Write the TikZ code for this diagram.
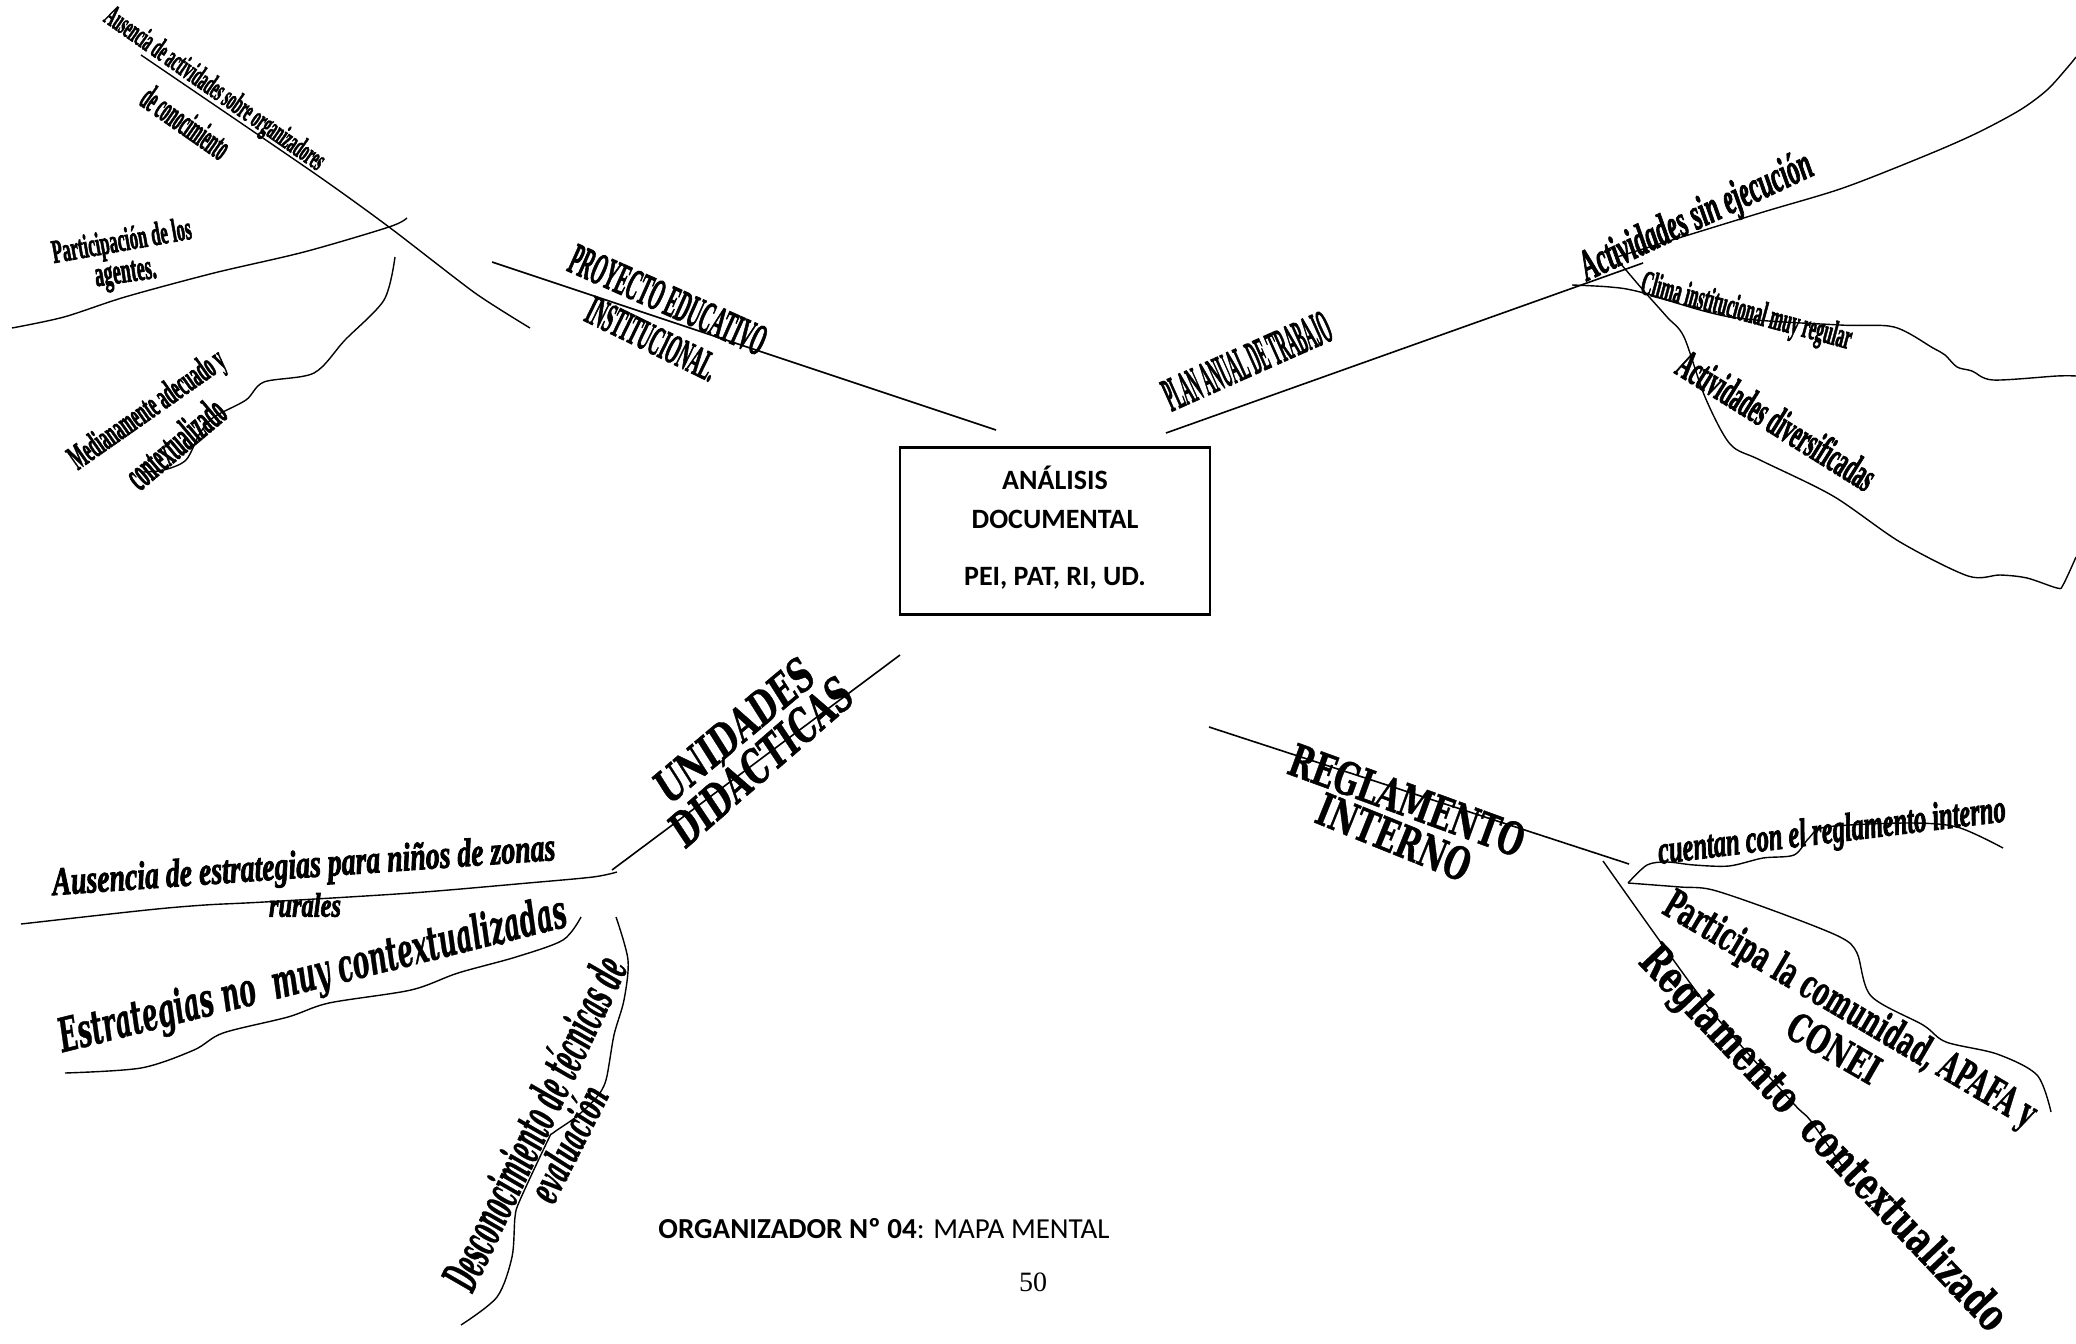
\documentclass[tikz,border=0pt]{standalone}
\usepackage{fontspec}
\usepackage{graphicx}
\usetikzlibrary{positioning}
\setmainfont{Carlito}
\newfontfamily\artfont[BoldFeatures={FakeBold=2.5}, BoldItalicFeatures={FakeBold=2.5}]{Liberation Serif}
\newfontfamily\bookfont[BoldFeatures={FakeBold=1}, BoldItalicFeatures={FakeBold=1}]{DejaVu Serif}
\newcommand{\wart}[3]{\resizebox*{#1pt}{#2pt}{#3}}

\begin{document}
\begin{tikzpicture}[
    x=1pt, y=-1pt,
    branch/.style={line width=1.6pt},
    twig/.style={line width=1.4pt, line join=round},
    art/.style={inner sep=0pt, font=\artfont\bfseries},
    arti/.style={inner sep=0pt, font=\artfont\bfseries\itshape},
    book/.style={inner sep=0pt, font=\bookfont\bfseries},
    booki/.style={inner sep=0pt, font=\bookfont\bfseries\itshape},
]
    \useasboundingbox (0,0) rectangle (2076,1343);

    \node[draw, line width=2.4pt, minimum width=310pt, minimum height=167pt, align=center,
          font=\bfseries\fontsize{28}{39}\selectfont] (doc) at (1055,531)
        {ANÁLISIS\\DOCUMENTAL\\[18pt]PEI, PAT, RI, UD.\\[-29pt]};

    \coordinate (pei-out) at (492,262);
    \coordinate (pei-in) at (996,430);
    \coordinate (pat-in) at (1166,433);
    \coordinate (pat-out) at (1643,263);
    \coordinate (ud-in) at (900,655);
    \coordinate (ud-out) at (612,870);
    \coordinate (ri-in) at (1209,727);
    \coordinate (ri-out) at (1629,864);
    \coordinate (ri-fork) at (1628,883);

    \draw[branch] (pei-in) -- (pei-out);
    \draw[branch] (pat-in) -- (pat-out);
    \draw[branch] (ud-in) -- (ud-out);
    \draw[branch] (ri-in) -- (ri-out);

    \draw[twig] plot[smooth, tension=0.4] coordinates {(141,55) (314,173) (389,227) (475,293) (530,328)};
    \draw[twig] plot[smooth, tension=0.5] coordinates {(12,328) (64,317) (125,297) (214,273) (304,252) (389,227) (407,218)};
    \draw[twig] plot[smooth, tension=0.5] coordinates {(395,257) (384,300) (345,340) (314,373) (264,382) (246,400) (214,417) (200,433) (186,460) (164,470) (143,472)};

    \draw[twig] plot[smooth, tension=0.5] coordinates {(1617,257) (1760,213) (1843,188) (1927,155) (1977,133) (2020,110) (2047,90) (2067,68) (2076,57)};
    \draw[twig] plot[smooth, tension=0.5] coordinates {(1572,285) (1610,287) (1640,292) (1730,317) (1840,325) (1894,327) (1933,348) (1945,355) (1957,367) (1972,371) (1993,380) (2057,376) (2076,376)};
    \draw[twig] plot[smooth, tension=0.5] coordinates {(1620,263) (1643,290) (1667,317) (1684,337) (1705,397) (1730,444) (1760,460) (1833,496) (1900,542) (1968,576) (2000,575) (2027,578) (2057,588) (2063,585) (2076,557)};

    \draw[twig] plot[smooth, tension=0.5] coordinates {(617,872) (593,877) (528,883) (411,893) (264,902) (205,905) (147,910) (21,924)};
    \draw[twig] plot[smooth, tension=0.5] coordinates {(581,917) (563,940) (516,957) (458,973) (411,990) (329,1003) (288,1017) (223,1033) (194,1050) (141,1068) (65,1073)};
    \draw[twig] plot[smooth, tension=0.5] coordinates {(616,917) (628,960) (624,1000) (614,1035) (606,1080) (596,1098) (576,1117) (553,1133) (548,1140) (520,1200) (515,1217) (512,1257) (497,1297) (461,1325)};

    \draw[twig] plot[smooth, tension=0.4] coordinates {(1603,861) (1708,1007) (1793,1103) (1810,1120) (1845,1170)};
    \draw[twig] plot[smooth, tension=0.5] coordinates {(2003,848) (1957,827) (1906,823) (1826,827) (1809,838) (1794,855) (1763,858) (1729,866) (1694,865) (1667,862) (1647,865) (ri-fork)};
    \draw[twig] plot[smooth, tension=0.5] coordinates {(ri-fork) (1680,887) (1713,890) (1780,913) (1840,937) (1857,953) (1871,996) (1923,1025) (1946,1042) (1997,1054) (2037,1075) (2051,1112)};

    \node[art, rotate=-35] (pei-t1) at (214,90) {\wart{262}{28}{Ausencia de actividades sobre organizadores}};
    \node[art, rotate=-35] (pei-t1b) at (186,122) {\wart{100}{26}{de conocimiento}};
    \node[art, rotate=10] (pei-t2) at (122,243) {\wart{141}{30}{Participación de los}};
    \node[art, rotate=8] (pei-t2b) at (126,276) {\wart{62}{28}{agentes.}};
    \node[art, rotate=35] (pei-t3) at (148,411) {\wart{183}{32}{Medianamente adecuado y}};
    \node[art, rotate=40] (pei-t3b) at (175,443) {\wart{117}{30}{contextualizado}};
    \node[art, rotate=-24] (pei) at (668,300) {\wart{211}{30}{PROYECTO EDUCATIVO}};
    \node[art, rotate=-26] (pei-b) at (652,339) {\wart{141}{28}{INSTITUCIONAL.}};

    \node[art, rotate=24] (pat) at (1247,361) {\wart{179}{32}{PLAN ANUAL DE TRABAJO}};
    \node[arti, rotate=25] (pat-t1) at (1697,218) {\wart{252}{40}{Actividades sin ejecución}};
    \node[art, rotate=-15] (pat-t2) at (1746,313) {\wart{217}{32}{Clima institucional muy regular}};
    \node[art, rotate=-32] (pat-t3) at (1777,420) {\wart{226}{30}{Actividades diversificadas}};

    \node[booki, rotate=40] (ud) at (734,730) {\wart{194}{34}{UNIDADES}};
    \node[booki, rotate=41] (ud-b) at (758,758) {\wart{227}{44}{DIDÁCTICAS}};
    \node[arti, rotate=4] (ud-t1) at (304,868) {\wart{504}{36}{Ausencia de estrategias para niños de zonas}};
    \node[arti] (ud-t1b) at (305,905) {\wart{72}{24}{rurales}};
    \node[booki, rotate=14] (ud-t2) at (313,977) {\wart{522}{46}{Estrategias no\ \ muy contextualizadas}};
    \node[booki, rotate=64.5] (ud-t3) at (533,1122) {\wart{362}{40}{Desconocimiento de técnicas de}};
    \node[booki, rotate=63] (ud-t3b) at (567,1143) {\wart{124}{34}{evaluación}};

    \node[book, rotate=-20] (ri) at (1407,800) {\wart{247}{34}{REGLAMENTO}};
    \node[book, rotate=-22] (ri-b) at (1394,837) {\wart{162}{34}{INTERNO}};
    \node[arti, rotate=7] (ri-t1) at (1832,833) {\wart{350}{36}{cuentan con el reglamento interno}};
    \node[book, rotate=-30.5] (ri-t2) at (1849,1011) {\wart{425}{40}{Participa la comunidad, APAFA y}};
    \node[book, rotate=-30] (ri-t2b) at (1834,1048) {\wart{101}{30}{CONEI}};
    \node[book, rotate=-46.5] (ri-t3) at (1822,1140) {\wart{512}{44}{Reglamento\ \ contextualizado}};

    \node[font=\fontsize{29}{34}\selectfont] (org) at (884,1229) {\textbf{ORGANIZADOR Nº 04}: MAPA MENTAL};
    \node[font=\artfont\fontsize{28}{32}\selectfont] (pg) at (1033,1282) {50};
\end{tikzpicture}
\end{document}
